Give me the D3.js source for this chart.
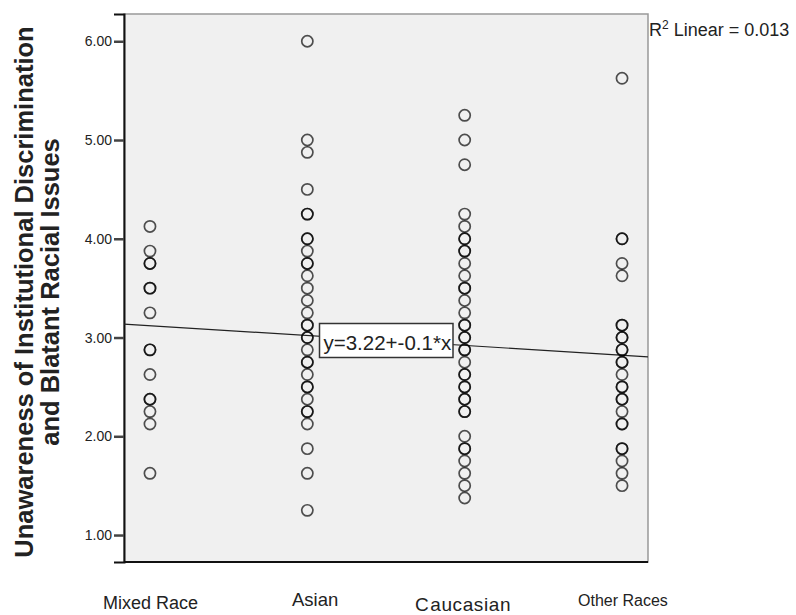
<!DOCTYPE html>
<html>
<head>
<meta charset="utf-8">
<script src="https://cdn.jsdelivr.net/npm/d3@7/dist/d3.min.js"></script>
<style>
	body { margin: 0; background: #fff; }
	text { font-family: Arial, "Liberation Sans", sans-serif; }
</style>
</head>
<body>
<div id="viz"></div>
<script>
"use strict";

var categories = ["Mixed Race", "Asian", "Caucasian", "Other Races"];

// scores, repeated values where the circle is darker
var mixedRace = [4.125, 3.875, 3.75, 3.75, 3.5, 3.5, 3.25, 2.875, 2.875, 2.625, 2.375, 2.375, 2.25, 2.125, 1.625];
var asian = [6.0, 5.0, 4.875, 4.5, 4.25, 4.25, 4.0, 4.0, 3.875, 3.75, 3.75, 3.625, 3.5, 3.375, 3.25, 3.125, 3.125,
	3.0, 3.0, 2.875, 2.75, 2.75, 2.625, 2.5, 2.5, 2.375, 2.25, 2.25, 2.125, 1.875, 1.625, 1.25];
var caucasian = [5.25, 5.0, 4.75, 4.25, 4.125, 4.0, 4.0, 3.875, 3.875, 3.75, 3.625, 3.5, 3.5, 3.375, 3.25, 3.125, 3.125,
	3.0, 3.0, 2.875, 2.875, 2.75, 2.625, 2.625, 2.5, 2.5, 2.375, 2.375, 2.25, 2.25, 2.0, 1.875, 1.875, 1.75, 1.625, 1.5, 1.375];
var otherRaces = [5.625, 4.0, 4.0, 3.75, 3.625, 3.125, 3.125, 3.0, 3.0, 2.875, 2.875, 2.75, 2.75, 2.625, 2.5, 2.5,
	2.375, 2.375, 2.25, 2.125, 2.125, 1.875, 1.875, 1.75, 1.625, 1.5];

var yTicks = [1, 2, 3, 4, 5, 6];
var fitIntercept = 3.22,
	fitSlope = -0.1,
	rSquared = "0.013";

var width = 796,
	height = 615,
	margin = {top: 14, right: 148, bottom: 53, left: 124};

var svg = d3.select("#viz")
	.append("svg")
	.attr("width", width)
	.attr("height", height)

var x = d3.scaleLinear()
	.domain([0.835, 4.165])
	.range([margin.left, width - margin.right])

var y = d3.scaleLinear()
	.domain([0.727, 6.276])
	.range([height - margin.bottom, margin.top])

// plot area
svg.append("rect")
	.attr("x", margin.left)
	.attr("y", margin.top)
	.attr("width", width - margin.left - margin.right)
	.attr("height", height - margin.top - margin.bottom)
	.attr("fill", "#f0f0f0")
	.attr("stroke", "#999")
	.attr("stroke-width", 1.5)

var yAxis = svg.append("g")
	.attr("transform", "translate(" + margin.left + ",0)")
	.call(d3.axisLeft(y).tickValues(yTicks).tickFormat(d3.format(".2f")).tickSize(10).tickPadding(2))

yAxis.select(".domain")
	.attr("stroke", "#111")
	.attr("stroke-width", 2)
yAxis.selectAll(".tick line")
	.attr("stroke", "#444")
	.attr("stroke-width", 2.5)
yAxis.selectAll(".tick text")
	.attr("font-size", "14px")
	.attr("fill", "#222")

svg.append("line")
	.attr("x1", margin.left)
	.attr("x2", width - margin.right)
	.attr("y1", height - margin.bottom)
	.attr("y2", height - margin.bottom)
	.attr("stroke", "#111")
	.attr("stroke-width", 2)

// fit line
var lineFunction = d3.line()
	.x(function(d){ return x(d) })
	.y(function(d){ return y(fitIntercept + fitSlope * d) })

svg.append("path")
	.attr("d", lineFunction(x.domain()))
	.attr("stroke", "#222")
	.attr("stroke-width", 1.2)
	.attr("fill", "none")

var groups = [mixedRace, asian, caucasian, otherRaces];
var points = [];
groups.forEach(function(values, i){
	values.forEach(function(v){
		points.push({cat: i + 1, value: v})
	})
})

svg.append("g")
	.selectAll("circle")
	.data(points)
	.enter()
	.append("circle")
	.attr("cx", function(d){ return x(d.cat) })
	.attr("cy", function(d){ return y(d.value) })
	.attr("r", 5.6)
	.attr("fill", "none")
	.attr("stroke", "#000")
	.attr("stroke-opacity", 0.68)
	.attr("stroke-width", 1.7)

// equation label
var eqBox = svg.append("g")
	.attr("transform", "translate(319.5,323.5)")
eqBox.append("rect")
	.attr("width", 133.5)
	.attr("height", 34)
	.attr("fill", "#fff")
	.attr("stroke", "#333")
	.attr("stroke-width", 1.5)
eqBox.append("text")
	.attr("x", 4)
	.attr("y", 26.5)
	.attr("font-size", "20.5px")
	.attr("fill", "#222")
	.text("y=" + fitIntercept + "+" + fitSlope + "*x")

var r2 = svg.append("text")
	.attr("x", 649)
	.attr("y", 36)
	.attr("font-size", "18px")
	.attr("fill", "#222")
r2.append("tspan").text("R")
r2.append("tspan").attr("font-size", "12px").attr("dy", -7).text("2")
r2.append("tspan").attr("dy", 7).text(" Linear = " + rSquared)

// y title
var yTitle = svg.append("text")
	.attr("transform", "translate(33," + ((margin.top + height - margin.bottom) / 2 + 4) + ") rotate(-90)")
	.attr("text-anchor", "middle")
	.attr("font-size", "25.5px")
	.attr("font-weight", "bold")
	.attr("fill", "#222")
yTitle.append("tspan").attr("x", 0).attr("y", 0).text("Unawareness of Institutional Discrimination")
yTitle.append("tspan").attr("x", 0).attr("y", 26).text("and Blatant Racial Issues")

// category labels, placed as loose text boxes like the original
var labelX = [103, 292, 415, 578],
	labelY = [609, 606, 611, 606],
	labelSize = [18, 18.5, 19, 16];

var labels = svg.append("g")
	.selectAll("text")
	.data(categories)
	.enter()
	.append("text")
	.attr("x", function(d, i){ return labelX[i] })
	.attr("y", function(d, i){ return labelY[i] })
	.attr("font-size", function(d, i){ return labelSize[i] + "px" })
	.attr("fill", "#222")

// the original has a small gap after the C of Caucasian
labels.each(function(d){
	var t = d3.select(this)
	if (d == "Caucasian") {
		t.append("tspan").text(d.charAt(0))
		t.append("tspan").attr("dx", 1.5).attr("letter-spacing", "0.6px").text(d.substring(1))
	} else {
		t.text(d)
	}
})
</script>
</body>
</html>
